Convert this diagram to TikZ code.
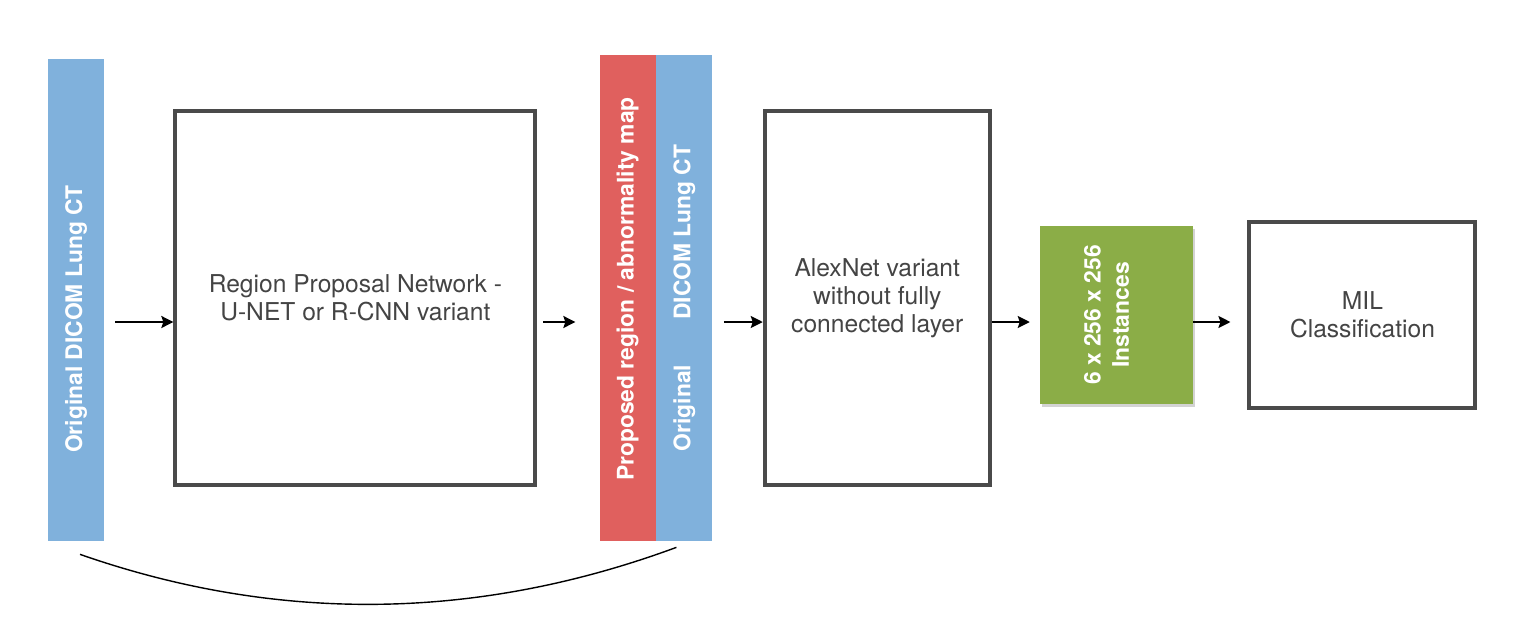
\documentclass[tikz,border=0pt]{standalone}
\usepackage{graphicx}
\usepackage{fontspec}
\setmainfont{TeX Gyre Heros}
\usetikzlibrary{positioning,arrows.meta,shadows}

\definecolor{barblue}{RGB}{128,177,220}
\definecolor{barred}{RGB}{224,96,94}
\definecolor{instgreen}{RGB}{139,173,71}
\definecolor{boxgray}{RGB}{74,74,74}
\definecolor{textgray}{RGB}{68,68,68}

\tikzset{
  bar/.style={fill=barblue, draw=none, minimum width=1.12cm, minimum height=9.64cm,
    inner sep=0pt, text=white, font=\fontsize{13}{16}\selectfont\bfseries},
  netbox/.style={draw=boxgray, line width=0.08cm, align=center, inner sep=0pt, text=textgray,
    font=\fontsize{14}{16}\selectfont},
  arrow/.style={-{Stealth[length=0.24cm, width=0.24cm, inset=0.04cm]}, line width=0.04cm},
}

\begin{document}
\begin{tikzpicture}
\useasboundingbox (0,0) rectangle (30.26,-12.84);

% ======================================
% INPUT SLICE
% ======================================
\node[bar] (lung) at (1.52,-6.0) {\rotatebox{90}{Original DICOM Lung CT\hspace*{0.76cm}}};

% ======================================
% REGION PROPOSAL
% ======================================
\node[netbox, right=1.38cm of lung, yshift=0.04cm, minimum width=7.2cm, minimum height=7.48cm] (rpn)
  {Region Proposal Network -\\U-NET or R-CNN variant};

\node[bar, fill=barred, minimum height=9.72cm, right=1.24cm of rpn] (prop)
  {\rotatebox{90}{\hspace*{0.36cm}Proposed region / abnormality map}};
\node[bar, minimum height=9.72cm, right=0pt of prop] (orig)
  {\rotatebox{90}{Original\hspace{0.9cm}DICOM Lung CT}};

% ======================================
% FEATURES AND MIL
% ======================================
\node[netbox, right=1.0cm of orig, minimum width=4.5cm, minimum height=7.48cm] (alex)
  {AlexNet variant\\without fully\\connected layer};
\node[fill=instgreen, minimum width=3.06cm, minimum height=3.56cm, inner sep=0pt,
  text=white, font=\fontsize{13}{16}\selectfont\bfseries,
  drop shadow={shadow xshift=0.03cm, shadow yshift=-0.05cm, opacity=0.35},
  right=0.96cm of alex, yshift=-0.34cm] (inst)
  {\rotatebox{90}{\begin{tabular}{@{}c@{}}6 x 256 x 256\\Instances\\[0.3cm]\end{tabular}}};
\node[netbox, right=1.08cm of inst, minimum width=4.52cm, minimum height=3.72cm] (mil)
  {MIL\\Classification};

% arrows run on one line below the centres
\coordinate (flow) at (0,-6.44);
\draw[arrow, shorten <=0.22cm] (lung.east |- flow) -- (rpn.west |- flow);
\draw[arrow, shorten <=0.12cm, shorten >=0.48cm] (rpn.east |- flow) -- (prop.west |- flow);
\draw[arrow, shorten <=0.22cm] (orig.east |- flow) -- (alex.west |- flow);
\draw[arrow, shorten >=0.2cm] (alex.east |- flow) -- (inst.west |- flow);
\draw[arrow, shorten >=0.34cm] (inst.east |- flow) -- (mil.west |- flow);

% skip connection under the network
\draw[line width=0.8pt] ([shift={(0.08cm,-0.26cm)}]lung.south) .. controls +(3.95,-1.38) and +(-3.98,-1.47) .. ([shift={(-0.16cm,-0.12cm)}]orig.south);

\end{tikzpicture}
\end{document}
